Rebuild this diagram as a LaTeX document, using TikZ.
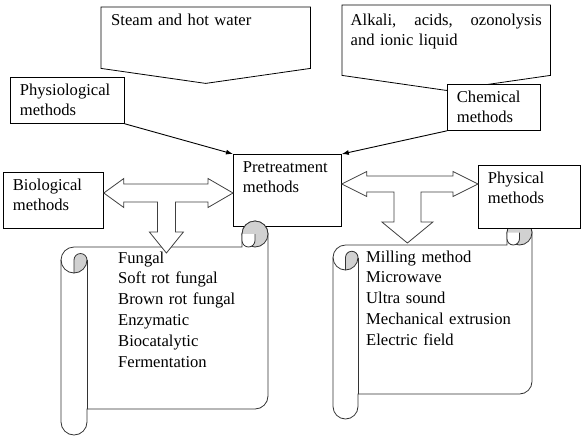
\documentclass[tikz,border=0pt]{standalone}
\usepackage{fontspec}
\setmainfont{Liberation Serif}
\usetikzlibrary{calc,arrows.meta}
\definecolor{curl}{gray}{0.82}

% vertical scroll: left, top, right, bottom, roll size
\newcommand{\vscroll}[5]{%
  \filldraw[scrollline,fill=white] (#1+#5/2,#2+#5) -- (#3-#5,#2+#5) -- (#3-#5,#2+#5/2)
    arc[start angle=180,end angle=360,radius=#5/2] -- (#3,#4-#5-#5/2)
    arc[start angle=0,end angle=90,radius=#5/2] -- (#1+#5,#4-#5) -- (#1+#5,#4-#5/2)
    arc[start angle=0,end angle=180,radius=#5/2] -- (#1,#2+#5+#5/2)
    arc[start angle=180,end angle=270,radius=#5/2] -- cycle;
  \draw[scrollline] (#1+#5,#2+#5+#5/2) -- (#1+#5,#4-#5);
  % top curl
  \filldraw[scrollline,fill=curl] (#3-#5/2,#2+#5/2) circle[radius=#5/2];
  \fill[white] (#3-#5,#2+#5/2) -- (#3-#5,#2+#5*3/4) arc[start angle=180,end angle=0,radius=#5/4] -- (#3-#5/2,#2+#5/2) -- cycle;
  \draw[scrollline] (#3-#5,#2+#5/2) -- (#3-#5,#2+#5*3/4) arc[start angle=180,end angle=0,radius=#5/4] -- (#3-#5/2,#2+#5/2);
  % left roll
  \filldraw[scrollline,fill=curl] (#1+#5/2,#2+2*#5) arc[start angle=90,end angle=0,radius=#5/2]
    arc[start angle=0,end angle=-180,radius=#5/4] -- cycle;
  \draw[scrollline] (#1,#2+#5+#5/2) arc[start angle=180,end angle=90,radius=#5/2];
}

\begin{document}
\begin{tikzpicture}[x=1pt,y=-1pt]
    \tikzstyle{every node}=[font=\fontsize{16.6}{20}\selectfont]
    \tikzstyle{box}=[draw,line width=0.8pt,fill=white,anchor=north west,inner xsep=9.5pt,inner ysep=0pt,text height=18pt,align=left]
    \tikzstyle{callout}=[anchor=north west,inner xsep=10pt,inner ysep=0pt,text height=18pt,align=left]
    \tikzstyle{calloutline}=[line width=0.8pt,line join=miter]
    \tikzstyle{scrollline}=[draw=black!80,line width=0.8pt]
    \tikzstyle{blockarrow}=[draw=black!75,fill=white,line width=0.8pt,line join=miter]
    \tikzstyle{link}=[-{Latex[length=7pt,width=5pt]},line width=0.9pt]
    \tikzstyle{itemlist}=[anchor=base west,inner sep=0pt,align=left,font=\fontsize{16.6}{20.8}\selectfont]
    \useasboundingbox (0,0) rectangle (586,440);

    % callouts
    \node[callout,text width=189pt,text depth=43pt] (steam) at (101,7) {Steam and hot water};
    \draw[calloutline] (steam.north west) -- (steam.north east) -- (steam.south east)
      -- ($(steam.south)+(0,15)$) -- (steam.south west) -- cycle;
    \node[callout,inner xsep=8.5pt,text width=191pt,text height=20pt,text depth=50pt] (acid) at (342,5)
      {Alkali,\hfill acids,\hfill ozonolysis\\and ionic liquid};
    \draw[calloutline] (acid.north west) -- (acid.north east) -- (acid.south east)
      -- ($(acid.south)+(0,15)$) -- (acid.south west) -- cycle;

    \vscroll{333}{220}{532}{419}{25}

    % methods
    \node[box,text width=74pt,text depth=28pt] (chem) at (447,84) {Chemical\\methods};
    \node[box,text width=95pt,text depth=28pt] (physio) at (10,77) {Physiological\\methods};
    \node[box,text width=81pt,text depth=38pt] (bio) at (3,172) {Biological\\methods};
    \node[box,text width=89pt,text depth=54pt] (pre) at (233,154) {Pretreatment\\methods};
    \node[box,text width=83pt,text depth=45pt] (phys) at (478,165) {Physical\\methods};

    \vscroll{61}{221}{268}{435}{26}

    % T shaped block arrows
    \coordinate (bl) at (bio.east |- 0,193);
    \coordinate (br) at (pre.west |- 0,193);
    \draw[blockarrow] (bl) -- ++(20,-14.5) -- ++(0,5.5) -- ($(br)+(-25,-9)$) -- ++(0,-5.5) -- (br)
      -- ++(-25,14.5) -- ++(0,-5.5) -- ($(bl)!0.5!(br)+(7,9)$) -- ++(0,30) -- ++(8,0)
      -- ++(-17,21) -- ++(-17,-21) -- ++(8,0) -- ++(0,-30) -- ($(bl)+(20,9)$) -- ++(0,5.5) -- cycle;
    \coordinate (pl) at (pre.east |- 0,184);
    \coordinate (pr) at (phys.west |- 0,184);
    \draw[blockarrow] (pl) -- ++(25,-12.5) -- ++(0,4.5) -- ($(pr)+(-25,-8)$) -- ++(0,-4.5) -- (pr)
      -- ++(-25,12.5) -- ++(0,-4.5) -- ($(pl)!0.5!(pr)+(11,8)$) -- ++(0,30) -- ++(12,0)
      -- ++(-25.5,21) -- ++(-25.5,-21) -- ++(12,0) -- ++(0,-30) -- ($(pl)+(25,8)$) -- ++(0,4.5) -- cycle;

    % lists
    \node[itemlist,text width=160pt] (biolist) at (118,263)
      {Fungal\\Soft rot fungal\\Brown rot fungal\\Enzymatic\\Biocatalytic\\Fermentation};
    \node[itemlist,text width=160pt] (physlist) at (366,262)
      {Milling method\\Microwave\\Ultra sound\\Mechanical extrusion\\Electric field};

    \draw[link] (physio.south east) -- (pre.north west);
    \draw[link] (chem.south west) -- (pre.north east);
\end{tikzpicture}
\end{document}
